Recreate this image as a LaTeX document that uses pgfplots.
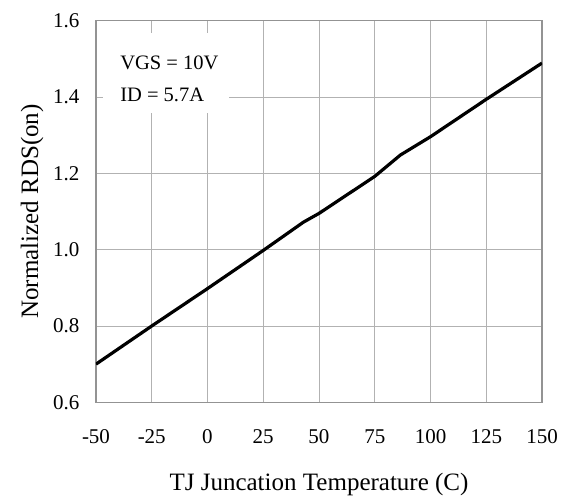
\documentclass[border=0pt]{standalone}
\usepackage{fontspec}
\setmainfont{Liberation Serif}
\usepackage{pgfplots}
\pgfplotsset{compat=1.18}
\begin{document}
\begin{tikzpicture}[x=1pt,y=1pt]
\useasboundingbox (-96,-96.7) rectangle (472,402.3);
\begin{axis}[
  at={(0,0)}, anchor=south west,
  scale only axis, width=446pt, height=381.6pt,
  xmin=-50, xmax=150, ymin=0.6, ymax=1.6,
  xtick={-50,-25,...,150}, ytick={0.6,0.8,...,1.6},
  yticklabel style={/pgf/number format/fixed, /pgf/number format/fixed zerofill, /pgf/number format/precision=1},
  /pgf/number format/assume math mode=true,
  tick label style={font=\fontsize{21}{24}\selectfont},
  xticklabel style={yshift=-24pt},
  yticklabel style={xshift=-13pt},
  major tick length=0pt,
  grid=major,
  major grid style={gray!60, line width=0.8pt},
  axis line style={gray!85, line width=1.2pt},
  xlabel={TJ Juncation Temperature (C)},
  ylabel={Normalized RDS(on)},
  label style={font=\fontsize{25}{28}\selectfont},
  xlabel style={yshift=-22pt},
  ylabel style={yshift=3pt},
]
\fill[white] (axis cs:-46.9,1.358) rectangle (axis cs:9.6,1.568);
\node[anchor=west, font=\fontsize{20.5}{24}\selectfont, inner sep=0pt] at (axis cs:-39.2,1.489) {VGS = 10V};
\node[anchor=west, font=\fontsize{20.5}{24}\selectfont, inner sep=0pt] at (axis cs:-39.2,1.405) {ID = 5.7A};
\addplot[black, line width=3.2pt, line join=round] coordinates {
(-50,0.70) (-25,0.80) (0,0.898) (25,0.998) (43,1.072) (50,1.095) (75,1.192) (86.5,1.248) (100,1.296) (125,1.394) (150,1.489)
};
\end{axis}
\end{tikzpicture}
\end{document}
